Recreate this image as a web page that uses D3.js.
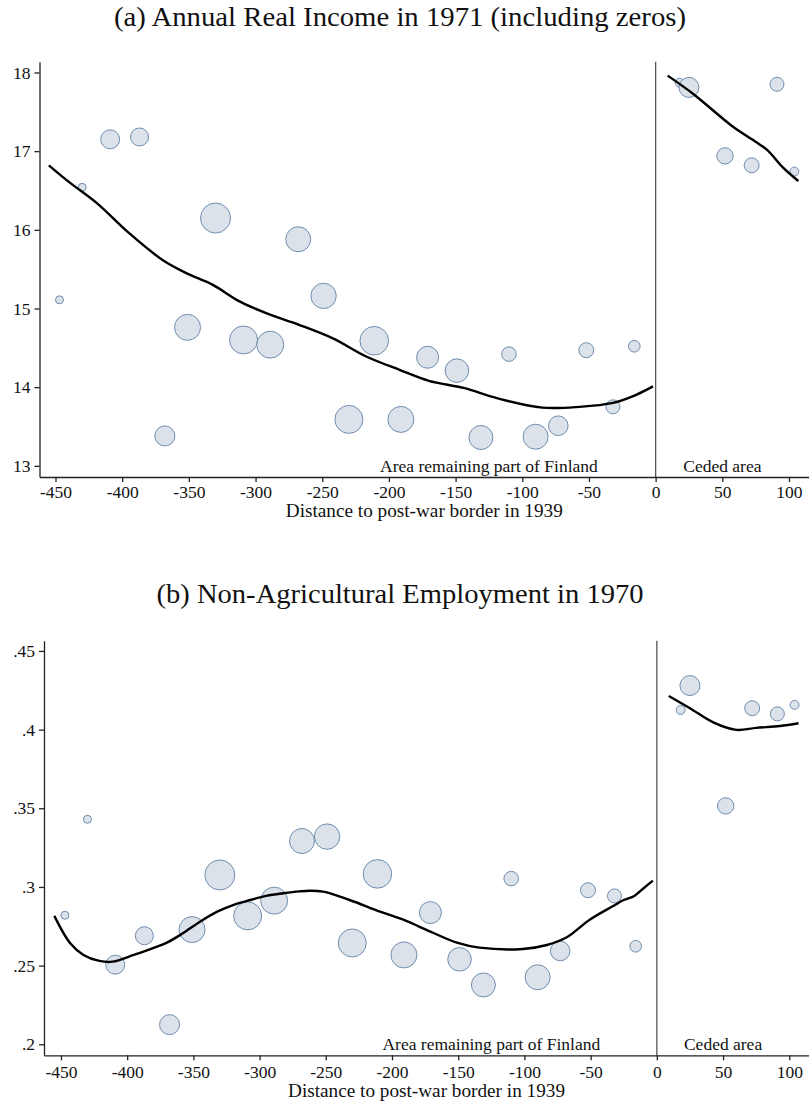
<!DOCTYPE html>
<html>
<head>
<meta charset="utf-8">
<script src="https://cdn.jsdelivr.net/npm/d3@7"></script>
<style>
  body { margin: 0; background: #fff; }
  svg { display: block; }
</style>
</head>
<body>
<svg id="chart"></svg>
<script>
// districts, distance to the 1939 border (km), weights (bubble size)
const distance = [-447, -430, -409, -387, -368, -351, -330, -309, -289, -268, -249, -230, -211, -191,
  -171, -149, -131, -110, -90, -73, -52, -32, -16, 18, 25, 52, 72, 91, 104];
const weight = [16, 16, 90, 81, 100, 169, 225, 196, 182, 156, 161, 196, 204, 169,
  121, 139, 144, 53, 156, 96, 56, 49, 34, 20, 100, 67, 56, 49, 20];

// panel (a)
const income = [15.11, 16.54, 17.15, 17.18, 13.38, 14.76, 16.15, 14.60, 14.54, 15.88, 15.16, 13.59, 14.59, 13.59,
  14.38, 14.21, 13.36, 14.42, 13.37, 13.51, 14.47, 13.75, 14.52, 17.87, 17.81, 16.94, 16.82, 17.85, 16.74];
const incomeFitLeftX = [-455, -440, -419, -395, -370, -352, -332, -312, -292, -267, -242, -217, -192, -170,
  -144, -119, -85, -57, -32, -15, -2];
const incomeFitLeftY = [16.82, 16.61, 16.34, 15.96, 15.62, 15.45, 15.30, 15.09, 14.94, 14.79, 14.62, 14.39, 14.22, 14.08,
  13.99, 13.86, 13.74, 13.75, 13.80, 13.90, 14.01];
const incomeFitRightX = [9, 28, 58, 75, 84, 95, 107];
const incomeFitRightY = [17.96, 17.73, 17.31, 17.12, 17.01, 16.80, 16.62];

// panel (b)
const employment = [0.282, 0.343, 0.2506, 0.269, 0.2125, 0.2729, 0.3076, 0.2816, 0.2913, 0.3292, 0.332, 0.2644, 0.3083, 0.2568,
  0.2837, 0.254, 0.2377, 0.3053, 0.2426, 0.2593, 0.2979, 0.2943, 0.2623, 0.4125, 0.428, 0.3515, 0.4136, 0.410, 0.4157];
const employFitLeftX = [-455, -443, -433, -421, -411, -395, -383, -370, -358, -345, -332, -320, -307, -295, -282,
  -270, -262, -252, -232, -209, -191, -171, -151, -134, -101, -83, -68, -51, -33, -25, -17, -10, -3];
const employFitLeftY = [0.2816, 0.2642, 0.2568, 0.2530, 0.2525, 0.2568, 0.2604, 0.2646, 0.2705, 0.2779, 0.2843, 0.2885,
  0.2917, 0.2943, 0.2960, 0.2972, 0.2976, 0.2970, 0.2917, 0.2843, 0.2790, 0.2716, 0.2646, 0.2614, 0.2606, 0.2631,
  0.2680, 0.2790, 0.2879, 0.2917, 0.2943, 0.2992, 0.3040];
const employFitRightX = [9, 25, 43, 60, 75, 93, 107];
const employFitRightY = [0.4214, 0.4136, 0.4044, 0.3998, 0.4011, 0.4023, 0.4040];

const xTicks = [-450, -400, -350, -300, -250, -200, -150, -100, -50, 0, 50, 100];
const incomeTicks = [13, 14, 15, 16, 17, 18];
const employTicks = [0.2, 0.25, 0.3, 0.35, 0.4, 0.45];
const employTickLabels = [".2", ".25", ".3", ".35", ".4", ".45"];

const width = 809, height = 1107;
const serif = "Liberation Serif, Times New Roman, serif";

const svg = d3.select("#chart")
  .attr("width", width)
  .attr("height", height)
  .attr("viewBox", [0, 0, width, height])
  .style("font-family", serif);

const r = d3.scaleSqrt().domain([0, 225]).range([0, 15]);

function panel({title, titleY, titleLen, yVals, yTicks, yFormat, fitL, fitR,
  xDomain, yDomain, left, top, bottom, tickPad, labelGap}) {

  const x = d3.scaleLinear().domain(xDomain).range([left, width]);
  const y = d3.scaleLinear().domain(yDomain).range([bottom, top]);

  svg.append("text")
    .attr("x", 400)
    .attr("y", titleY)
    .attr("text-anchor", "middle")
    .attr("font-size", 28)
    .attr("textLength", titleLen)
    .attr("lengthAdjust", "spacingAndGlyphs")
    .attr("fill", "#111")
    .text(title);

  // border at 0
  svg.append("line")
    .attr("x1", x(0)).attr("x2", x(0))
    .attr("y1", top).attr("y2", bottom)
    .attr("stroke", "#555")
    .attr("stroke-width", 1.3);

  // bubbles
  svg.append("g")
    .selectAll("circle")
    .data(distance.map((d, i) => ({d, v: yVals[i], w: weight[i]})))
    .join("circle")
    .attr("cx", p => x(p.d))
    .attr("cy", p => y(p.v))
    .attr("r", p => r(p.w))
    .attr("fill", "#dbe2ea")
    .attr("stroke", "#6f8eae")
    .attr("stroke-width", 1);

  // fitted lines
  const line = d3.line().x(p => x(p[0])).y(p => y(p[1])).curve(d3.curveCatmullRom);
  [fitL, fitR].forEach(f => {
    svg.append("path")
      .attr("d", line(f[0].map((v, i) => [v, f[1][i]])))
      .attr("fill", "none")
      .attr("stroke", "#000")
      .attr("stroke-width", 2.4)
      .attr("stroke-linejoin", "round");
  });

  // area labels
  svg.append("text")
    .attr("x", x(-125))
    .attr("y", bottom - 5)
    .attr("text-anchor", "middle")
    .attr("font-size", 17.5)
    .attr("fill", "#111")
    .text("Area remaining part of Finland");
  svg.append("text")
    .attr("x", x(50))
    .attr("y", bottom - 5)
    .attr("text-anchor", "middle")
    .attr("font-size", 17.5)
    .attr("fill", "#111")
    .text("Ceded area");

  // axes
  svg.append("g")
    .attr("transform", `translate(0,${bottom})`)
    .call(d3.axisBottom(x).tickValues(xTicks).tickSizeInner(5).tickSizeOuter(0).tickPadding(tickPad).tickFormat(d => String(d)))
    .attr("font-family", serif)
    .attr("font-size", 17.5)
    .call(g => g.selectAll("text").attr("fill", "#111"))
    .call(g => g.selectAll("line, path").attr("stroke", "#222").attr("stroke-width", 1.3));

  svg.append("g")
    .attr("transform", `translate(${left},0)`)
    .call(d3.axisLeft(y).tickValues(yTicks).tickSizeInner(5).tickSizeOuter(0).tickPadding(4).tickFormat(yFormat))
    .attr("font-family", serif)
    .attr("font-size", 17.5)
    .call(g => g.selectAll("text").attr("fill", "#111"))
    .call(g => g.selectAll("line, path").attr("stroke", "#222").attr("stroke-width", 1.3));

  svg.append("text")
    .attr("x", (left + width) / 2)
    .attr("y", bottom + labelGap)
    .attr("text-anchor", "middle")
    .attr("font-size", 18.5)
    .attr("textLength", 277)
    .attr("lengthAdjust", "spacingAndGlyphs")
    .attr("fill", "#111")
    .text("Distance to post-war border in 1939");
}

panel({
  title: "(a) Annual Real Income in 1971 (including zeros)",
  titleY: 26, titleLen: 572,
  yVals: income, yTicks: incomeTicks, yFormat: d3.format("d"),
  fitL: [incomeFitLeftX, incomeFitLeftY], fitR: [incomeFitRightX, incomeFitRightY],
  xDomain: [-462, 115], yDomain: [12.858, 18.137],
  left: 39.5, top: 61.7, bottom: 477, tickPad: 3.5, labelGap: 39.5
});

panel({
  title: "(b) Non-Agricultural Employment in 1970",
  titleY: 603, titleLen: 487,
  yVals: employment, yTicks: employTicks, yFormat: (d, i) => employTickLabels[i],
  fitL: [employFitLeftX, employFitLeftY], fitR: [employFitRightX, employFitRightY],
  xDomain: [-462.8, 114.9], yDomain: [0.193, 0.4565],
  left: 44, top: 640.7, bottom: 1055.3, tickPad: 5.5, labelGap: 42
});
</script>
</body>
</html>
